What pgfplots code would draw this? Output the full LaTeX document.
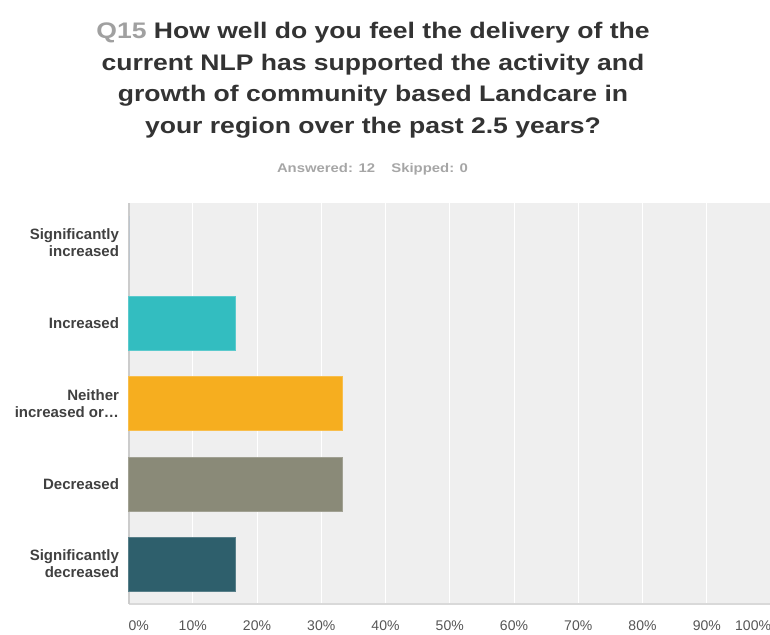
\documentclass[border=0pt]{standalone}
\usepackage{pgfplots}
\pgfplotsset{compat=1.18}
\usepackage{fontspec}
\setmainfont{Liberation Sans}
\newfontfamily\titlefont{Liberation Sans}[FakeStretch=1.18]
\definecolor{bgc}{HTML}{EFEFEF}
\definecolor{titlec}{HTML}{333333}
\definecolor{qc}{HTML}{A0A0A0}
\definecolor{subc}{HTML}{A6A6A6}
\definecolor{labc}{HTML}{404040}
\definecolor{tickc}{HTML}{555555}
\definecolor{c1}{HTML}{33BDC0}
\definecolor{c2}{HTML}{F6AE1F}
\definecolor{c3}{HTML}{8A8A78}
\definecolor{c4}{HTML}{2E5F6C}
\definecolor{c0}{HTML}{5B9BD5}
\begin{document}
\begin{tikzpicture}[x=1pt,y=1pt]
\useasboundingbox (0,0) rectangle (770,634);
% title
\begin{scope}[every node/.style={anchor=base,inner sep=0pt,font=\titlefont\fontsize{22.5}{27}\selectfont\bfseries,text=titlec}]
\node at (373,634-39) {\textcolor{qc}{Q15} How well do you feel the delivery of the};
\node at (373,634-70.5) {current NLP has supported the activity and};
\node at (373,634-102) {growth of community based Landcare in};
\node at (373,634-133.5) {your region over the past 2.5 years?};
\node[font=\titlefont\fontsize{12.6}{15}\selectfont\bfseries,text=subc] at (372.5,634-173) {Answered: 12\hspace{1.3em}Skipped: 0};
\end{scope}
\begin{axis}[
  at={(128.5pt,30pt)}, anchor=south west,
  scale only axis, width=642.5pt, height=401pt,
  xbar, bar width=54pt, bar shift=0pt,
  xmin=0, xmax=100, ymin=-0.5, ymax=4.5, y dir=reverse,
  axis background/.style={fill=bgc},
  axis x line*=bottom, axis y line*=left,
  x axis line style={draw=black!15, line width=2pt},
  y axis line style={draw=black!20, line width=2pt},
  xtick={0,10,...,100}, ytick={0,1,2,3,4},
  yticklabels={{Significantly\\increased},{Increased},{Neither\\increased or\dots},{Decreased},{Significantly\\decreased}},
  major tick length=0pt,
  xmajorgrids, grid style={draw=white, line width=1pt},
  xticklabel={\pgfmathtruncatemacro\tv{round(\tick)}\ifnum\tv=0 \makebox[0pt][l]{0\%}\else\ifnum\tv=100 \makebox[0pt][r]{100\%}\else\tv\%\fi\fi},
  xticklabel style={font=\fontsize{14}{16}\selectfont, text=tickc, yshift=-13pt},
  yticklabel style={font=\fontsize{15}{17}\selectfont\bfseries, text=labc, align=right, xshift=-6pt},
  clip=false,
]
\addplot[draw=none, fill=c0] coordinates {(0,0)};
\addplot[draw=c1!80!white, fill=c1] coordinates {(16.67,1)};
\addplot[draw=c2!80!white, fill=c2] coordinates {(33.33,2)};
\addplot[draw=c3!80!white, fill=c3] coordinates {(33.33,3)};
\addplot[draw=c4!80!white, fill=c4] coordinates {(16.67,4)};
\end{axis}
\end{tikzpicture}
\end{document}
